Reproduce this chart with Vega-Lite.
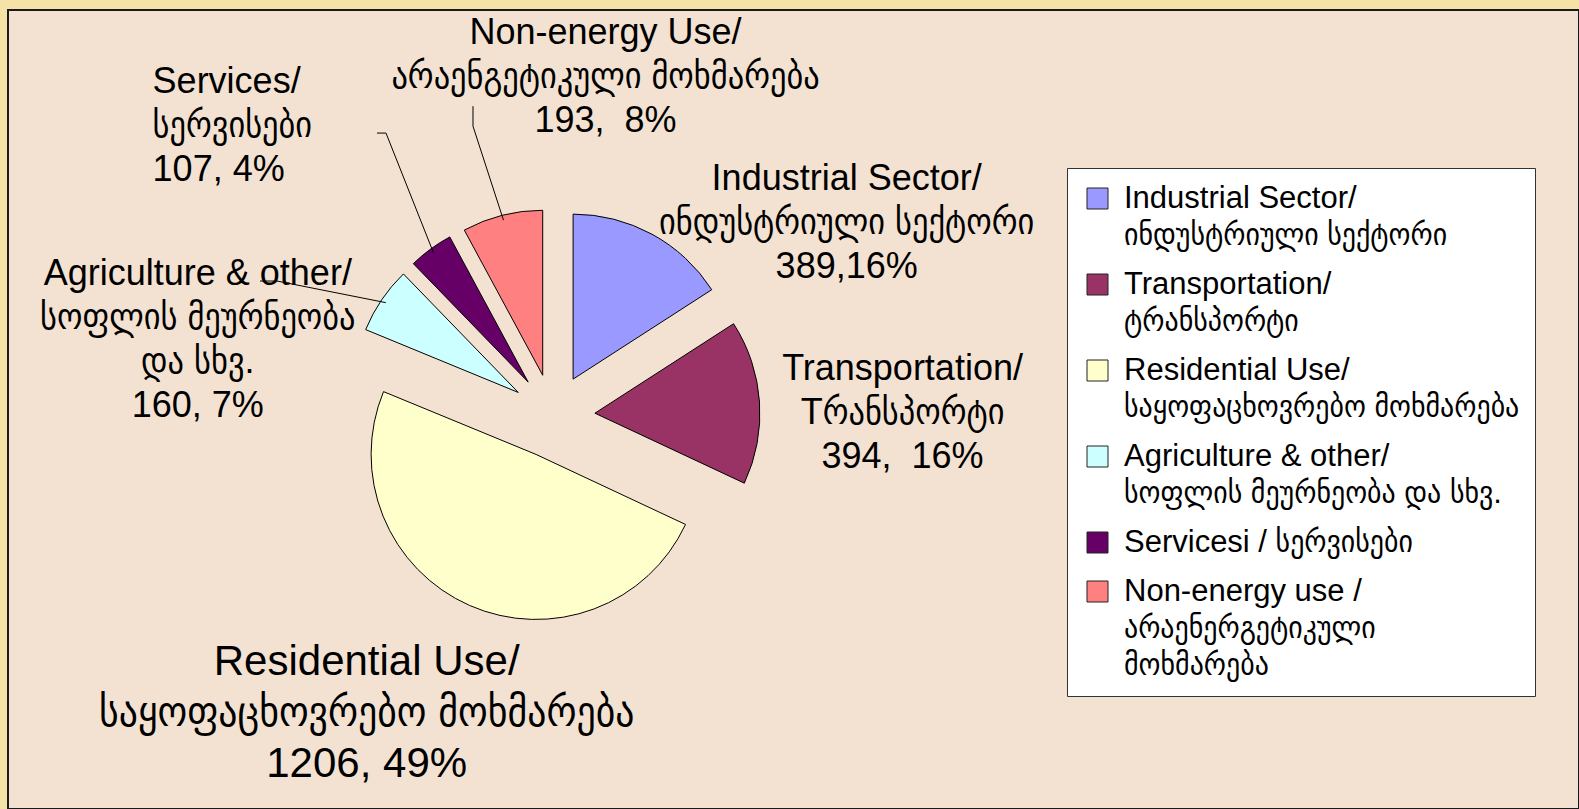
{
  "$schema": "https://vega.github.io/schema/vega-lite/v6.json",
  "width": 1571,
  "height": 799,
  "autosize": {"type": "none"},
  "padding": {"left": 8, "top": 10, "right": 0, "bottom": 0},
  "background": "#f5e2a6",
  "config": {
    "view": {"fill": "#f3e2d2", "stroke": "#1a1a1a", "strokeWidth": 2},
    "style": {"guide-label": {"lineHeight": 37}}
  },
  "data": {
    "values": [
      {"key": "ind", "value": 389, "leg": "Industrial Sector/|ინდუსტრიული სექტორი", "lbl": "Industrial Sector/|ინდუსტრიული სექტორი|389,16%"},
      {"key": "trn", "value": 394, "leg": "Transportation/|ტრანსპორტი", "lbl": "Transportation/|Tრანსპორტი|394, \u00a016%"},
      {"key": "res", "value": 1206, "leg": "Residential Use/|საყოფაცხოვრებო მოხმარება", "lbl": "Residential Use/|საყოფაცხოვრებო მოხმარება|1206, 49%"},
      {"key": "agr", "value": 160, "leg": "Agriculture & other/|სოფლის მეურნეობა და სხვ.", "lbl": "Agriculture & other/|სოფლის მეურნეობა|და სხვ.|160, 7%"},
      {"key": "srv", "value": 107, "leg": "Servicesi / სერვისები", "lbl": "Services/|სერვისები|107, 4%"},
      {"key": "non", "value": 193, "leg": "Non-energy use /|არაენერგეტიკული|მოხმარება", "lbl": "Non-energy Use/|არაენგეტიკული მოხმარება|193, \u00a08%"}
    ]
  },
  "transform": [
    {"window": [{"op": "row_number", "as": "idx"}]},
    {"joinaggregate": [{"op": "sum", "field": "value", "as": "total"}]},
    {"window": [{"op": "sum", "field": "value", "as": "cum"}], "sort": [{"field": "idx", "order": "ascending"}], "frame": [null, 0]},
    {"calculate": "2*PI*(datum.cum - datum.value)/datum.total", "as": "t0"},
    {"calculate": "2*PI*datum.cum/datum.total", "as": "t1"},
    {"calculate": "(datum.t0 + datum.t1)/2", "as": "mid"},
    {"calculate": "545 + 42*sin(datum.mid)", "as": "px"},
    {"calculate": "406 - 42*cos(datum.mid)", "as": "py"},
    {"calculate": "545 + 202*sin(datum.mid)", "as": "ax"},
    {"calculate": "406 - 202*cos(datum.mid)", "as": "ay"}
  ],
  "layer": [
    {
      "mark": {"type": "arc", "radius": 165, "stroke": "#000000", "strokeWidth": 1},
      "encoding": {
        "theta": {"field": "t0", "type": "quantitative", "scale": null, "stack": null},
        "theta2": {"field": "t1"},
        "x": {"field": "px", "type": "quantitative", "scale": null, "axis": null},
        "y": {"field": "py", "type": "quantitative", "scale": null, "axis": null},
        "color": {
          "field": "leg",
          "type": "nominal",
          "scale": {
            "domain": [
              "Industrial Sector/|ინდუსტრიული სექტორი",
              "Transportation/|ტრანსპორტი",
              "Residential Use/|საყოფაცხოვრებო მოხმარება",
              "Agriculture & other/|სოფლის მეურნეობა და სხვ.",
              "Servicesi / სერვისები",
              "Non-energy use /|არაენერგეტიკული|მოხმარება"
            ],
            "range": ["#9999ff", "#993366", "#ffffcc", "#ccffff", "#660066", "#ff8080"]
          },
          "legend": {
            "title": null,
            "orient": "none",
            "legendX": 1059,
            "legendY": 158,
            "fillColor": "#ffffff",
            "strokeColor": "#333333",
            "padding": 15,
            "rowPadding": 17,
            "symbolType": "square",
            "symbolSize": 441,
            "symbolStrokeColor": "#222222",
            "symbolStrokeWidth": 1,
            "labelFont": "Liberation Sans, DejaVu Sans Condensed, DejaVu Sans, sans-serif",
            "labelFontSize": 31,
            "labelColor": "#000000",
            "labelLimit": 1000,
            "labelOffset": 11,
            "labelExpr": "split(datum.label, '|')"
          }
        }
      }
    },
    {
      "transform": [{"filter": "datum.key == 'srv'"}],
      "mark": {"type": "rule", "color": "#000000", "strokeWidth": 1, "x2Offset": -47.6, "y2Offset": -120},
      "encoding": {
        "x": {"field": "ax", "type": "quantitative", "scale": null},
        "y": {"field": "ay", "type": "quantitative", "scale": null},
        "x2": {"field": "ax"},
        "y2": {"field": "ay"}
      }
    },
    {
      "transform": [{"filter": "datum.key == 'srv'"}],
      "mark": {"type": "rule", "color": "#000000", "strokeWidth": 1, "xOffset": -47.6, "yOffset": -120, "x2Offset": -56.6, "y2Offset": -120},
      "encoding": {
        "x": {"field": "ax", "type": "quantitative", "scale": null},
        "y": {"field": "ay", "type": "quantitative", "scale": null},
        "x2": {"field": "ax"},
        "y2": {"field": "ay"}
      }
    },
    {
      "transform": [{"filter": "datum.key == 'non'"}],
      "mark": {"type": "rule", "color": "#000000", "strokeWidth": 1, "x2Offset": -30.5, "y2Offset": -94},
      "encoding": {
        "x": {"field": "ax", "type": "quantitative", "scale": null},
        "y": {"field": "ay", "type": "quantitative", "scale": null},
        "x2": {"field": "ax"},
        "y2": {"field": "ay"}
      }
    },
    {
      "transform": [{"filter": "datum.key == 'non'"}],
      "mark": {"type": "rule", "color": "#000000", "strokeWidth": 1, "xOffset": -30.5, "yOffset": -94, "x2Offset": -30.5, "y2Offset": -114},
      "encoding": {
        "x": {"field": "ax", "type": "quantitative", "scale": null},
        "y": {"field": "ay", "type": "quantitative", "scale": null},
        "x2": {"field": "ax"},
        "y2": {"field": "ay"}
      }
    },
    {
      "transform": [{"filter": "datum.key == 'agr'"}],
      "mark": {"type": "rule", "color": "#000000", "strokeWidth": 1, "x2Offset": -108.8, "y2Offset": -21.6},
      "encoding": {
        "x": {"field": "ax", "type": "quantitative", "scale": null},
        "y": {"field": "ay", "type": "quantitative", "scale": null},
        "x2": {"field": "ax"},
        "y2": {"field": "ay"}
      }
    },
    {
      "transform": [{"filter": "datum.key == 'agr'"}],
      "mark": {"type": "rule", "color": "#000000", "strokeWidth": 1, "xOffset": -108.8, "yOffset": -21.6, "x2Offset": -125.8, "y2Offset": -21.6},
      "encoding": {
        "x": {"field": "ax", "type": "quantitative", "scale": null},
        "y": {"field": "ay", "type": "quantitative", "scale": null},
        "x2": {"field": "ax"},
        "y2": {"field": "ay"}
      }
    },
    {
      "transform": [{"filter": "datum.key == 'ind'"}],
      "mark": {"type": "text", "lineBreak": "|", "font": "Liberation Sans, DejaVu Sans Condensed, DejaVu Sans, sans-serif", "fontSize": 36, "lineHeight": 44, "align": "center", "baseline": "middle", "dx": 197, "dy": -60, "color": "#000000"},
      "encoding": {
        "x": {"field": "ax", "type": "quantitative", "scale": null},
        "y": {"field": "ay", "type": "quantitative", "scale": null},
        "text": {"field": "lbl"}
      }
    },
    {
      "transform": [{"filter": "datum.key == 'trn'"}],
      "mark": {"type": "text", "lineBreak": "|", "font": "Liberation Sans, DejaVu Sans Condensed, DejaVu Sans, sans-serif", "fontSize": 36, "lineHeight": 44, "align": "center", "baseline": "middle", "dx": 148, "dy": -33, "color": "#000000"},
      "encoding": {
        "x": {"field": "ax", "type": "quantitative", "scale": null},
        "y": {"field": "ay", "type": "quantitative", "scale": null},
        "text": {"field": "lbl"}
      }
    },
    {
      "transform": [{"filter": "datum.key == 'res'"}],
      "mark": {"type": "text", "lineBreak": "|", "font": "Liberation Sans, DejaVu Sans Condensed, DejaVu Sans, sans-serif", "fontSize": 42, "lineHeight": 51, "align": "center", "baseline": "middle", "dx": -105, "dy": 61, "color": "#000000"},
      "encoding": {
        "x": {"field": "ax", "type": "quantitative", "scale": null},
        "y": {"field": "ay", "type": "quantitative", "scale": null},
        "text": {"field": "lbl"}
      }
    },
    {
      "transform": [{"filter": "datum.key == 'agr'"}],
      "mark": {"type": "text", "lineBreak": "|", "font": "Liberation Sans, DejaVu Sans Condensed, DejaVu Sans, sans-serif", "fontSize": 36, "lineHeight": 44, "align": "center", "baseline": "middle", "dx": -188, "dy": -29, "color": "#000000"},
      "encoding": {
        "x": {"field": "ax", "type": "quantitative", "scale": null},
        "y": {"field": "ay", "type": "quantitative", "scale": null},
        "text": {"field": "lbl"}
      }
    },
    {
      "transform": [{"filter": "datum.key == 'srv'"}],
      "mark": {"type": "text", "lineBreak": "|", "font": "Liberation Sans, DejaVu Sans Condensed, DejaVu Sans, sans-serif", "fontSize": 36, "lineHeight": 44, "align": "left", "baseline": "middle", "dx": -281, "dy": -171, "color": "#000000"},
      "encoding": {
        "x": {"field": "ax", "type": "quantitative", "scale": null},
        "y": {"field": "ay", "type": "quantitative", "scale": null},
        "text": {"field": "lbl"}
      }
    },
    {
      "transform": [{"filter": "datum.key == 'non'"}],
      "mark": {"type": "text", "lineBreak": "|", "font": "Liberation Sans, DejaVu Sans Condensed, DejaVu Sans, sans-serif", "fontSize": 36, "lineHeight": 44, "align": "center", "baseline": "middle", "dx": 102, "dy": -187, "color": "#000000"},
      "encoding": {
        "x": {"field": "ax", "type": "quantitative", "scale": null},
        "y": {"field": "ay", "type": "quantitative", "scale": null},
        "text": {"field": "lbl"}
      }
    }
  ]
}
